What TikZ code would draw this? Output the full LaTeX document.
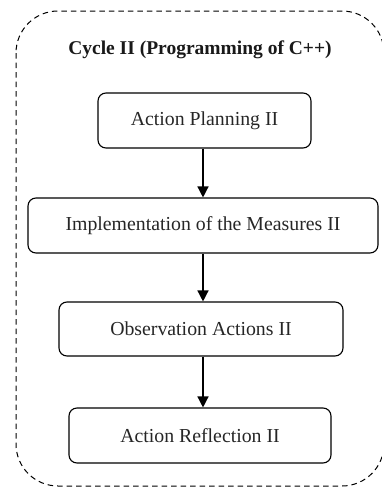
\documentclass[tikz,border=0pt]{standalone}
\usepackage{fontspec}
\setmainfont{Liberation Serif}
\usetikzlibrary{arrows.meta}
\begin{document}
\begin{tikzpicture}[x=1pt,y=-1pt,
  stagebox/.style={draw, line width=1.1pt, rounded corners=8pt, inner sep=0pt, font=\fontsize{19.8}{22}\selectfont, text=black!85},
  flow/.style={line width=1.4pt, -{Triangle[length=11pt,width=11pt]}}]
\useasboundingbox (0,0) rectangle (382,498);
\draw[dashed, line width=1pt, dash pattern=on 5.5pt off 4pt, rounded corners=42pt] (16,11) rectangle (384,486);
\node[font=\bfseries\fontsize{19.5}{22}\selectfont, text=black!90] (title) at (200,50) {Cycle II (Programming of C++)};
\node[stagebox, minimum width=213pt, minimum height=55pt] (a) at (204.5,120.5) {Action Planning II};
\node[stagebox, minimum width=350pt, minimum height=55pt] (b) at (203,225.5) {Implementation of the Measures II};
\node[stagebox, minimum width=284pt, minimum height=54pt] (c) at (201,329) {Observation Actions II};
\node[stagebox, minimum width=262pt, minimum height=55pt] (d) at (200,435.5) {Action Reflection II};
\draw[flow] (a.south -| 203,0) -- (b.north -| 203,0);
\draw[flow] (b.south -| 203,0) -- (c.north -| 203,0);
\draw[flow] (c.south -| 203,0) -- (d.north -| 203,0);
\end{tikzpicture}
\end{document}
